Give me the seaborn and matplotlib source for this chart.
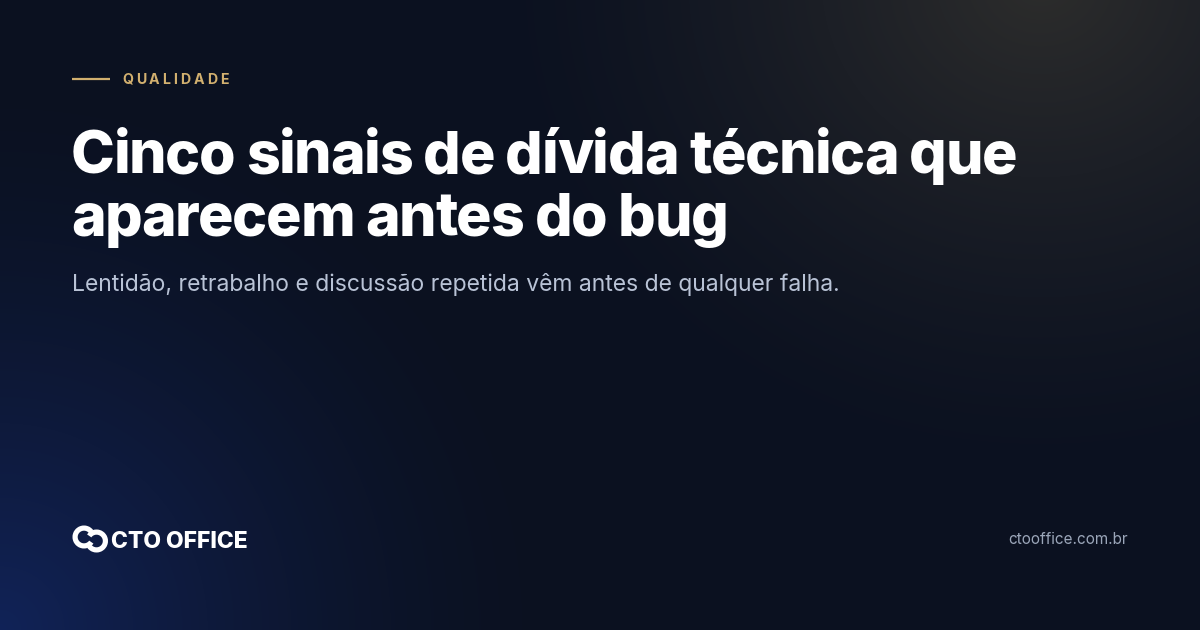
import numpy as np
import matplotlib
matplotlib.use("Agg")
import matplotlib.pyplot as plt
from matplotlib.patches import Wedge
import seaborn as sns

# card content
kicker = "QUALIDADE"
title_lines = ["Cinco sinais de dívida técnica que", "aparecem antes do bug"]
subtitle = "Lentidão, retrabalho e discussão repetida vêm antes de qualquer falha."
brand = "CTO OFFICE"
site = "ctooffice.com.br"

W, H = 1200, 630
sns.set_theme(style="white")
plt.rcParams['font.family'] = ['Inter', 'DejaVu Sans']

# background: dark navy with a blue glow bottom-left and a warm haze top-right
yy, xx = np.mgrid[0:H, 0:W]
bg = np.ones((H, W, 3)) * np.array([11, 17, 32], dtype=float)
d_blue = np.sqrt(xx ** 2 + (yy - H) ** 2) / 560
bg += np.clip(1 - d_blue, 0, 1)[..., None] ** 1.5 * np.array([6, 18, 56])
d_warm = np.sqrt((xx - 1040) ** 2 + ((yy + 20) / 0.9) ** 2) / 560
bg += np.clip(1 - d_warm, 0, 1)[..., None] ** 1.4 * np.array([34, 28, 12])
bg = np.clip(bg, 0, 255) / 255

fig = plt.figure(figsize=(12, 6.3), dpi=100)
ax = fig.add_axes([0, 0, 1, 1])
ax.imshow(bg, extent=(0, W, H, 0), aspect='auto', interpolation='bilinear')
ax.set_xlim(0, W)
ax.set_ylim(H, 0)
ax.axis('off')
renderer = fig.canvas.get_renderer()


def tracked_text(x0, y, s, track, **kw):
    # draw s one char at a time, keeping kerning from prefix widths and adding track px per char
    probe = ax.text(0, 0, "", **kw)
    for i, ch in enumerate(s):
        probe.set_text(s[:i] + "|")
        w_pref = probe.get_window_extent(renderer=renderer).width
        probe.set_text("|")
        w_bar = probe.get_window_extent(renderer=renderer).width
        ax.text(x0 + (w_pref - w_bar) + i * track, y, ch, **kw)
    probe.remove()


# kicker line + letter-spaced label
gold = "#d2b06f"
ax.plot([72, 110], [79, 79], color=gold, lw=1.6, solid_capstyle='butt')
tracked_text(122, 80, kicker, 2.9, color=gold, fontsize=10.2, fontweight='bold',
             va='center', ha='left')

# title, tight tracking
for i, line in enumerate(title_lines):
    tracked_text(71, 173 + i * 63, line, -1.3, color="white", fontsize=42.5,
                 fontweight='heavy', va='baseline', ha='left')

ax.text(72, 291, subtitle, color="#b9c3d6", fontsize=16.5, va='baseline', ha='left')

# logo: two interlocked rings
ax.add_patch(Wedge((84, 537), 11.5, 35, 325, width=5.2, color="white", lw=0))
ax.add_patch(Wedge((96.5, 541), 11.5, 215, 505, width=5.2, color="white", lw=0))
ax.text(111, 548, brand, color="white", fontsize=16.5, fontweight='heavy',
        va='baseline', ha='left')

ax.text(1128, 540, site, color="#9ba6b9", fontsize=11, va='center', ha='right')

fig.savefig("out.png", dpi=100)
